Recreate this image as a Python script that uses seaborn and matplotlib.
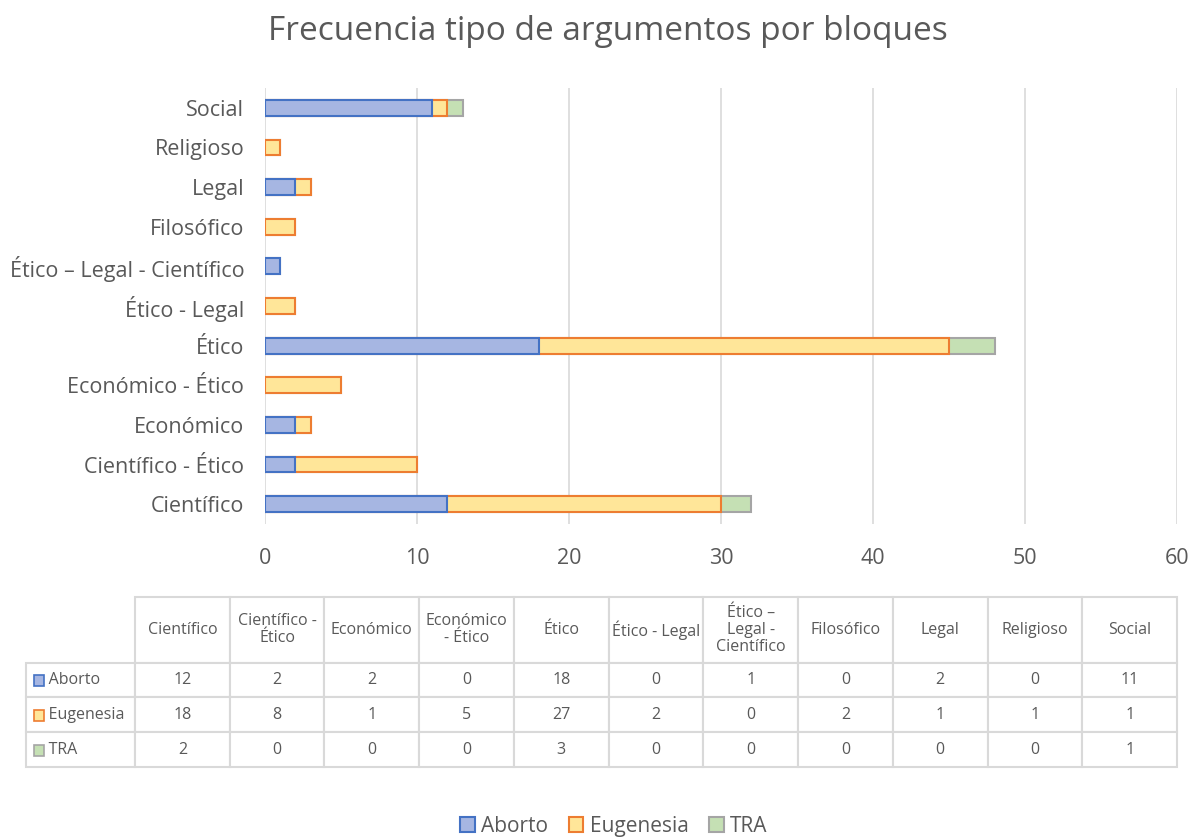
import matplotlib
matplotlib.use("Agg")
import matplotlib.pyplot as plt
import seaborn as sns
import pandas as pd
from matplotlib.patches import Patch, Rectangle

categorias = ["Científico", "Científico - Ético", "Económico", "Económico - Ético", "Ético",
              "Ético - Legal", "Ético – Legal - Científico", "Filosófico", "Legal", "Religioso", "Social"]
encabezados = ["Científico", "Científico -\nÉtico", "Económico", "Económico\n- Ético", "Ético",
               "Ético - Legal", "Ético –\nLegal -\nCientífico", "Filosófico", "Legal", "Religioso", "Social"]
aborto = [12, 2, 2, 0, 18, 0, 1, 0, 2, 0, 11]
eugenesia = [18, 8, 1, 5, 27, 2, 0, 2, 1, 1, 1]
tra = [2, 0, 0, 0, 3, 0, 0, 0, 0, 0, 1]
series = ["Aborto", "Eugenesia", "TRA"]

relleno = {"Aborto": "#a6b6e2", "Eugenesia": "#ffe699", "TRA": "#c5e0b4"}
borde = {"Aborto": "#4472c4", "Eugenesia": "#ed7d31", "TRA": "#a5a5a5"}
gris = "#595959"

df = pd.DataFrame({"Categoria": categorias, "Aborto": aborto, "Eugenesia": eugenesia, "TRA": tra})
# acumulados para apilar
df["c_Aborto"] = df["Aborto"]
df["c_Eugenesia"] = df["Aborto"] + df["Eugenesia"]
df["c_TRA"] = df["c_Eugenesia"] + df["TRA"]

sns.set_style("white")
plt.rcParams["font.family"] = ["Open Sans", "DejaVu Sans"]

fig = plt.figure(figsize=(11.91, 8.38), dpi=100)
ax = fig.add_axes([265 / 1191, 1 - 524 / 838, 912 / 1191, 436 / 838])

orden = categorias[::-1]
for s in ["TRA", "Eugenesia", "Aborto"]:
    sub = df[df[s] > 0] if s != "TRA" else df
    sns.barplot(data=sub, y="Categoria", x="c_" + s, order=orden, orient="h",
                color=relleno[s], edgecolor=borde[s], linewidth=1.5, width=0.4,
                saturation=1, errorbar=None, ax=ax)

ax.set_xlim(0, 60)
ax.set_xticks(range(0, 61, 10))
ax.grid(axis="x", color="#d9d9d9", linewidth=1.2)
ax.set_axisbelow(True)
sns.despine(ax=ax, left=True, bottom=True)
ax.set_xlabel("")
ax.set_ylabel("")
ax.tick_params(axis="both", length=0, labelsize=15.5, labelcolor=gris)
ax.tick_params(axis="x", pad=17)
ax.tick_params(axis="y", pad=15)

fig.text(608 / 1191, 1 - 32 / 838, "Frecuencia tipo de argumentos por bloques",
         ha="center", va="center", fontsize=24, color=gris)

# tabla de datos
tax = fig.add_axes([26 / 1191, 1 - 767 / 838, 1151 / 1191, 170 / 838])
tax.axis("off")
filas = [[""] + encabezados]
for s, vals in zip(series, [aborto, eugenesia, tra]):
    filas.append(["     " + s] + [str(v) for v in vals])
anchos = [109] + [94.7] * 11
tabla = tax.table(cellText=filas, colWidths=anchos, bbox=[0, 0, 1, 1], cellLoc="center")
tabla.auto_set_font_size(False)
for (r, c), cell in tabla.get_celld().items():
    cell.set_edgecolor("#d9d9d9")
    cell.set_linewidth(1.5)
    cell.get_text().set_color(gris)
    cell.get_text().set_fontsize(11.5)
    cell.get_text().set_linespacing(1.1)
    cell.set_height(66 if r == 0 else 35)
    if r == 0 and c == 0:
        cell.set_visible(False)
    if c == 0 and r > 0:
        cell.get_text().set_ha("left")
        cell._loc = "left"
        cell.PAD = 0.02

# cuadritos de leyenda en la tabla
for i, s in enumerate(series):
    yc = 1 - (66 + 35 * i + 17.5) / 170
    tax.add_patch(Rectangle((8 / 1151, yc - 5.5 / 170), 10 / 1151, 11 / 170,
                            facecolor=relleno[s], edgecolor=borde[s], linewidth=1.2,
                            transform=tax.transAxes, zorder=5, clip_on=False))

handles = [Patch(facecolor=relleno[s], edgecolor=borde[s], linewidth=1.5, label=s) for s in series]
fig.legend(handles=handles, loc="center", bbox_to_anchor=(614 / 1191, 1 - 826 / 838), ncol=3,
           frameon=False, fontsize=15, labelcolor=gris, handlelength=0.7, handleheight=0.7,
           handletextpad=0.3, columnspacing=1.0)

fig.savefig("out.png", dpi=100)
